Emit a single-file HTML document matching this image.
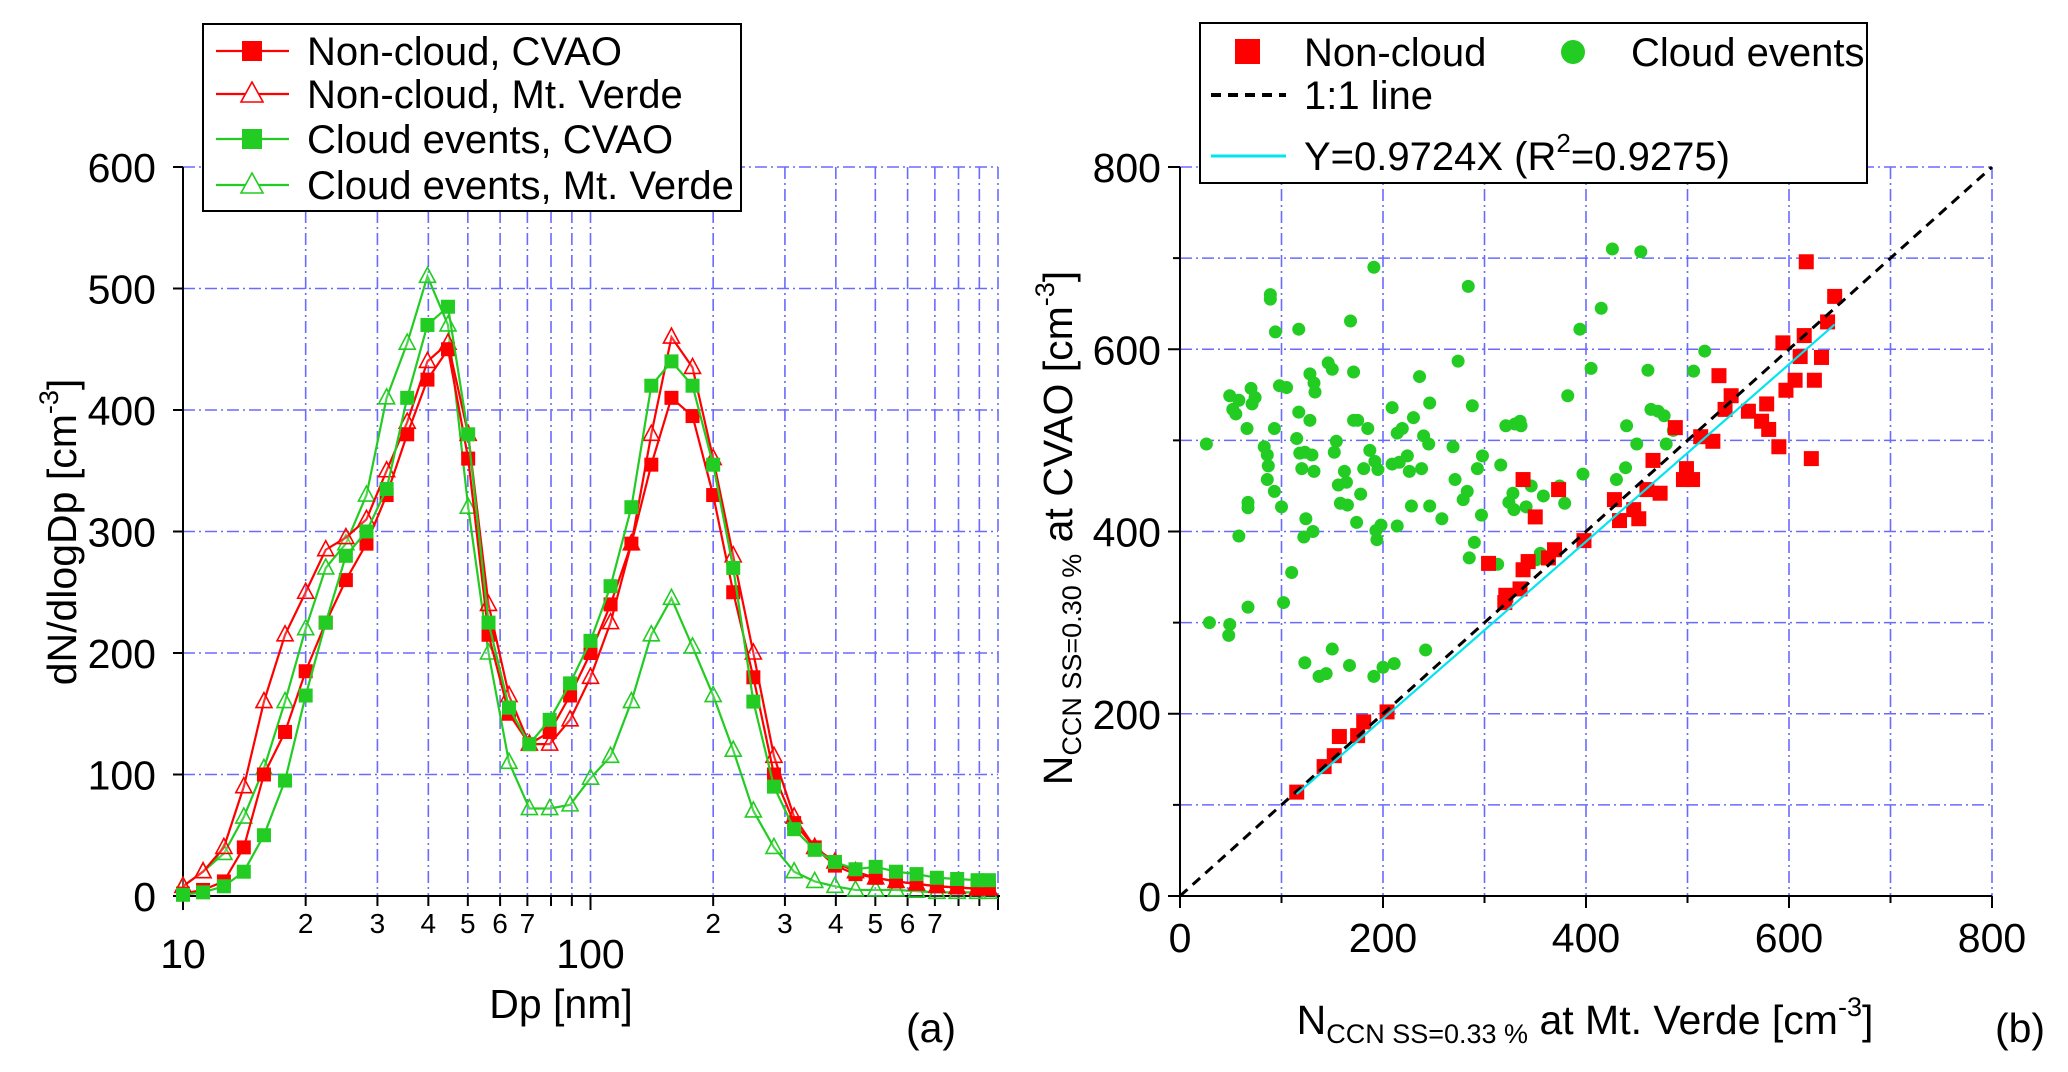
<!DOCTYPE html>
<html><head><meta charset="utf-8">
<style>
html,body{margin:0;padding:0;background:#fff;}
svg{display:block;font-family:"Liberation Sans",Arial,sans-serif;}
</style></head>
<body>
<svg id="chart" width="2068" height="1072" viewBox="0 0 2068 1072" xmlns="http://www.w3.org/2000/svg">
<g id="panelA"></g>
<g id="panelB"></g>
</svg>
<script>
// ---------- Panel (a) data ----------
const dpBins = [10,11.2,12.6,14.1,15.8,17.8,20,22.4,25.1,28.2,31.6,35.5,39.8,44.7,50.1,56.2,63.1,70.8,79.4,89.1,100,112,126,141,158,178,200,224,251,282,316,355,398,447,501,562,631,708,794,891,950];
const nonCloudCVAO = [2,5,12,40,100,135,185,225,260,290,330,380,425,450,360,215,150,125,135,165,200,240,290,355,410,395,330,250,180,100,60,40,25,18,15,12,10,8,7,6,6];
const nonCloudMV = [8,20,40,90,160,215,250,285,295,310,350,390,440,455,380,240,165,125,125,145,180,225,290,380,460,435,360,280,200,115,65,40,28,20,15,12,10,8,7,6,6];
const cloudCVAO = [1,3,8,20,50,95,165,225,280,300,335,410,470,485,380,225,155,125,145,175,210,255,320,420,440,420,355,270,160,90,55,38,28,22,24,20,18,15,14,13,13];
const cloudMV = [8,20,35,65,105,160,220,270,290,330,410,455,510,470,320,200,110,72,72,75,97,115,160,215,245,205,165,120,70,40,20,12,8,5,5,5,4,3,3,3,3];
const yTicksA = [0,100,200,300,400,500,600];
const xMajorA = [10,100,1000];
const xMinorA = [20,30,40,50,60,70,80,90,200,300,400,500,600,700,800,900];
const xMinorLabelsA = ["2","3","4","5","6","7","","","2","3","4","5","6","7","",""];

// ---------- Panel (b) data ----------
const nonCloudX = [115,142,152,157,175,181,204,304,320,321,335,338,343,338,350,363,369,373,398,428,433,447,452,460,466,473,488,496,499,505,513,525,531,537,543,560,573,578,580,590,594,597,606,611,615,617,622,625,632,638,645];
const nonCloudY = [114,142,154,175,176,191,202,365,322,330,337,358,367,457,416,371,380,446,390,435,412,424,414,446,478,442,514,457,469,457,504,499,571,534,549,532,521,540,512,493,607,555,566,592,615,696,480,566,591,630,658];
const cloudX = [26,29,49,49,48,52,55,58,58,66,67,67,67,70,71,74,83,86,87,86,89,89,93,93,94,98,100,102,105,110,115,117,117,118,120,122,123,123,124,128,128,130,132,132,133,131,137,144,146,150,150,152,154,156,158,162,164,165,168,171,171,175,174,167,178,181,185,187,191,191,192,193,194,195,200,198,209,209,211,214,214,216,219,224,226,228,230,236,240,238,242,245,246,246,258,269,271,274,279,283,284,285,288,290,293,297,298,313,316,321,324,328,329,330,335,336,341,346,351,355,358,374,379,382,394,397,405,415,426,430,439,440,450,454,461,464,471,477,479,486,506,517];
const cloudY = [496,300,549,298,286,534,529,544,395,513,432,426,317,557,540,547,493,484,472,457,660,655,513,444,619,560,427,322,558,355,502,622,531,486,469,394,256,487,414,573,522,484,466,563,553,400,241,244,585,578,271,487,499,451,431,466,454,429,631,575,522,522,410,253,441,469,513,489,241,690,477,401,391,468,251,407,536,474,255,508,406,476,513,483,466,428,525,570,505,469,270,496,541,428,414,493,457,587,435,444,669,371,538,388,469,418,483,364,473,516,432,442,424,518,521,516,427,450,369,376,439,450,431,549,622,463,579,645,710,457,470,516,496,707,577,534,532,527,496,511,576,598];
const fitSlope = 0.9724;
const fitRange = [115,645];
const ticksB = [0,200,400,600,800];
const gridB = [100,200,300,400,500,600,700,800];

const NS = "http://www.w3.org/2000/svg";
function mk(parent, tag, attrs){const e=document.createElementNS(NS,tag);for(const k in attrs)e.setAttribute(k,attrs[k]);parent.appendChild(e);return e;}
const GRID = {stroke:"#6a6aff","stroke-width":1.6,"stroke-dasharray":"12,4,2,4",fill:"none"};
const RED="#ff0000", GREEN="#22cc22";
const FS=41, LFS=40;

// ---------- Panel (a) ----------
const A = document.getElementById('panelA');
const aL=183,aR=998,aT=167,aB=896;
const ax = d => aL + Math.log10(d/10)/2*(aR-aL);
const ay = v => aB - v/600*(aB-aT);

const gA = mk(A,'g',{});


xMinorA.concat(xMajorA).forEach(d=>{ if(d>10){ mk(gA,'line',Object.assign({x1:ax(d),x2:ax(d),y1:aT,y2:aB},GRID)); } });
yTicksA.forEach(v=>{ if(v>0) mk(gA,'line',Object.assign({x1:aL,x2:aR,y1:ay(v),y2:ay(v)},GRID)); });

const axA = mk(A,'g',{});


mk(axA,'line',{x1:aL,x2:aR+2,y1:aB,y2:aB,stroke:"#000","stroke-width":2});
mk(axA,'line',{x1:aL,x2:aL,y1:aT,y2:aB,stroke:"#000","stroke-width":2});
yTicksA.forEach(v=>{
  mk(axA,'line',{x1:aL-10,x2:aL,y1:ay(v),y2:ay(v),stroke:"#000","stroke-width":2});
  const t=mk(axA,'text',{x:aL-27,y:ay(v)+15,"text-anchor":"end","font-size":FS});
  t.textContent=v;
  
  
});
xMajorA.forEach(d=>{
  mk(axA,'line',{x1:ax(d),x2:ax(d),y1:aB,y2:aB+14,stroke:"#000","stroke-width":2});
  if(d<1000){const t=mk(axA,'text',{x:ax(d),y:968,"text-anchor":"middle","font-size":FS});t.textContent=d;
  
  }
});
xMinorA.forEach((d,i)=>{
  mk(axA,'line',{x1:ax(d),x2:ax(d),y1:aB,y2:aB+10,stroke:"#000","stroke-width":2});
  if(xMinorLabelsA[i]){const t=mk(axA,'text',{x:ax(d),y:933,"text-anchor":"middle","font-size":28});t.textContent=xMinorLabelsA[i];
  
  }
});
let t=mk(A,'text',{x:561,y:1018,"text-anchor":"middle","font-size":FS});t.textContent="Dp [nm]";


t=mk(A,'text',{x:931,y:1042,"text-anchor":"middle","font-size":FS});t.textContent="(a)";


t=mk(A,'text',{transform:"translate(76,532) rotate(-90)","text-anchor":"middle","font-size":FS});
t.innerHTML='dN/dlogDp [cm<tspan dy="-18" font-size="27">-3</tspan><tspan dy="18">]</tspan>';



function seriesA(vals,color,marker,name){
  const g=mk(A,'g',{});
  
  
  const pts=vals.map((v,i)=>ax(dpBins[i])+","+ay(v)).join(" ");
  mk(g,'polyline',{points:pts,fill:"none",stroke:color,"stroke-width":2.2});
  vals.forEach((v,i)=>{
    const x=ax(dpBins[i]),y=ay(v);
    let m;
    if(marker==='sq') m=mk(g,'rect',{x:x-7,y:y-7,width:14,height:14,fill:color});
    else m=mk(g,'polygon',{points:`${x},${y-9} ${x-8},${y+6} ${x+8},${y+6}`,fill:"#fff","fill-opacity":0.2,stroke:color,"stroke-width":1.6});
    
    
  });
}
seriesA(cloudMV,GREEN,'tri','series-cloud-mt-verde');
seriesA(nonCloudMV,RED,'tri','series-noncloud-mt-verde');
seriesA(nonCloudCVAO,RED,'sq','series-noncloud-cvao');
seriesA(cloudCVAO,GREEN,'sq','series-cloud-cvao');

// Legend a
const lgA=mk(A,'g',{});


mk(lgA,'rect',{x:203,y:24,width:538,height:187,fill:"#fff",stroke:"#000","stroke-width":2});
const legA=[["Non-cloud, CVAO",RED,'sq',51],["Non-cloud, Mt. Verde",RED,'tri',94],["Cloud events, CVAO",GREEN,'sq',139],["Cloud events, Mt. Verde",GREEN,'tri',185]];
legA.forEach(([lab,c,m,y])=>{
  const g=mk(lgA,'g',{});
  
  
  mk(g,'line',{x1:216,x2:289,y1:y,y2:y,stroke:c,"stroke-width":2.2});
  if(m==='sq') mk(g,'rect',{x:242,y:y-10,width:20,height:20,fill:c});
  else mk(g,'polygon',{points:`252,${y-12} 241,${y+8} 263,${y+8}`,fill:"#fff",stroke:c,"stroke-width":1.6});
  const tt=mk(g,'text',{x:307,y:y+14,"font-size":LFS});tt.textContent=lab;
});

// ---------- Panel (b) ----------
const B=document.getElementById('panelB');
const bL=1180,bR=1992,bT=167,bB=896;
const bx=v=>bL+v/800*(bR-bL);
const by=v=>bB-v/800*(bB-bT);
const gB=mk(B,'g',{});


gridB.forEach(v=>{
  mk(gB,'line',Object.assign({x1:bx(v),x2:bx(v),y1:bT,y2:bB},GRID));
  mk(gB,'line',Object.assign({x1:bL,x2:bR,y1:by(v),y2:by(v)},GRID));
});
const axB=mk(B,'g',{});


mk(axB,'line',{x1:bL,x2:bR,y1:bB,y2:bB,stroke:"#000","stroke-width":2});
mk(axB,'line',{x1:bL,x2:bL,y1:bT,y2:bB,stroke:"#000","stroke-width":2});
gridB.concat([0]).forEach(v=>{
  mk(axB,'line',{x1:bx(v),x2:bx(v),y1:bB,y2:bB+(v%200===0?12:7),stroke:"#000","stroke-width":2});
  mk(axB,'line',{x1:bL-(v%200===0?12:7),x2:bL,y1:by(v),y2:by(v),stroke:"#000","stroke-width":2});
});
ticksB.forEach(v=>{
  let tx=mk(axB,'text',{x:bx(v),y:952,"text-anchor":"middle","font-size":FS});tx.textContent=v;
  
  
  let ty=mk(axB,'text',{x:1161,y:by(v)+15,"text-anchor":"end","font-size":FS});ty.textContent=v;
  
  
});
t=mk(B,'text',{x:1585,y:1034,"text-anchor":"middle","font-size":FS});
t.innerHTML='N<tspan font-size="27" dy="9">CCN SS=0.33 %</tspan><tspan dy="-9"> at Mt. Verde [cm</tspan><tspan dy="-18" font-size="27">-3</tspan><tspan dy="18">]</tspan>';


t=mk(B,'text',{x:2020,y:1042,"text-anchor":"middle","font-size":FS});t.textContent="(b)";


t=mk(B,'text',{transform:"translate(1072,528) rotate(-90)","text-anchor":"middle","font-size":FS});
t.innerHTML='N<tspan font-size="27" dy="9">CCN SS=0.30 %</tspan><tspan dy="-9"> at CVAO [cm</tspan><tspan dy="-18" font-size="27">-3</tspan><tspan dy="18">]</tspan>';



const gC=mk(B,'g',{});


cloudX.forEach((x,i)=>{const c=mk(gC,'circle',{cx:bx(x),cy:by(cloudY[i]),r:6.5,fill:GREEN});
  
  });
const gN=mk(B,'g',{});


nonCloudX.forEach((x,i)=>{const r=mk(gN,'rect',{x:bx(x)-7.5,y:by(nonCloudY[i])-7.5,width:15,height:15,fill:RED});
  
  });
const oneLine=mk(B,'line',{x1:bx(0),y1:by(0),x2:bx(800),y2:by(800),stroke:"#000","stroke-width":3,"stroke-dasharray":"10,7"});


const fit=mk(B,'line',{x1:bx(fitRange[0]),y1:by(fitRange[0]*fitSlope),x2:bx(fitRange[1]),y2:by(fitRange[1]*fitSlope),stroke:"#00e5ee","stroke-width":2.2});



const lgB=mk(B,'g',{});


mk(lgB,'rect',{x:1200,y:23,width:667,height:160,fill:"#fff",stroke:"#000","stroke-width":2});
mk(lgB,'rect',{x:1235,y:39,width:25,height:25,fill:RED});
t=mk(lgB,'text',{x:1304,y:66,"font-size":LFS});t.textContent="Non-cloud";
mk(lgB,'circle',{cx:1573,cy:52,r:12,fill:GREEN});
t=mk(lgB,'text',{x:1631,y:66,"font-size":LFS});t.textContent="Cloud events";
mk(lgB,'line',{x1:1211,x2:1286,y1:95,y2:95,stroke:"#000","stroke-width":4,"stroke-dasharray":"10,7"});
t=mk(lgB,'text',{x:1304,y:109,"font-size":LFS});t.textContent="1:1 line";
mk(lgB,'line',{x1:1211,x2:1286,y1:156,y2:156,stroke:"#00e5ee","stroke-width":3});
t=mk(lgB,'text',{x:1304,y:170,"font-size":LFS});
t.innerHTML='Y=0.9724X (R<tspan dy="-18" font-size="26">2</tspan><tspan dy="18">=0.9275)</tspan>';
</script>
</body></html>
